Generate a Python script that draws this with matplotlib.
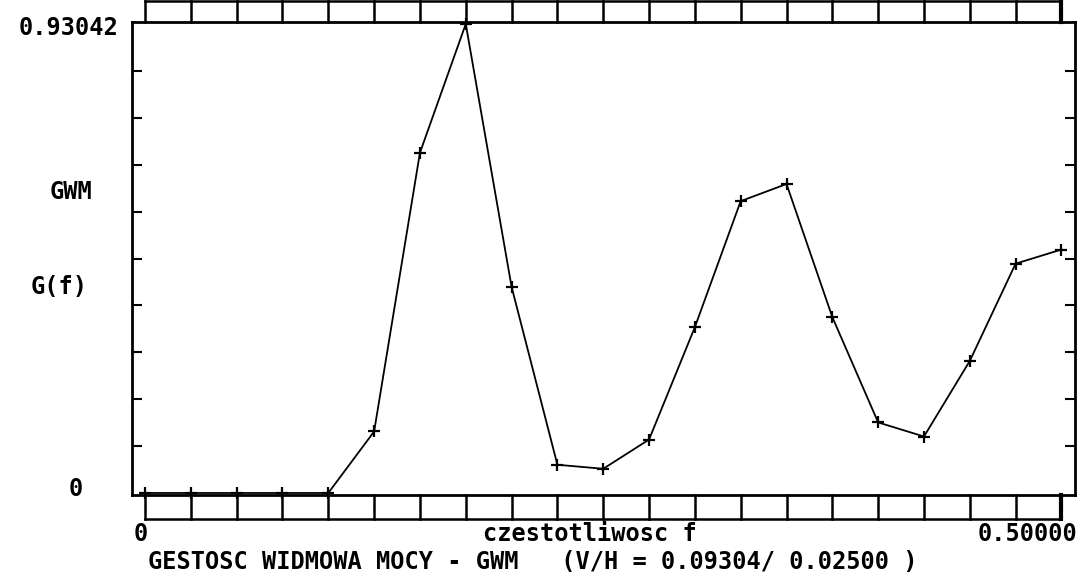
import matplotlib
matplotlib.use("Agg")
import matplotlib.pyplot as plt
import matplotlib.transforms as mtransforms

# Data
freq = [0.000, 0.025, 0.050, 0.075, 0.100, 0.125, 0.150, 0.175, 0.200, 0.225,
        0.250, 0.275, 0.300, 0.325, 0.350, 0.375, 0.400, 0.425, 0.450, 0.475, 0.500]
gwm = [0.0, 0.0, 0.0, 0.0, 0.0, 0.122, 0.675, 0.93042, 0.409, 0.056,
       0.048, 0.106, 0.329, 0.579, 0.613, 0.349, 0.140, 0.112, 0.262, 0.455, 0.483]
ymax = 0.93042
box_step = 0.025
y_tick_fracs = [0.1, 0.2, 0.3, 0.4, 0.5, 0.6, 0.7, 0.8, 0.9]

W, H = 1083, 579
fig = plt.figure(figsize=(W / 100, H / 100), dpi=100)
fig.patch.set_facecolor("white")

left, right, top, bottom = 132, 1075, 22, 495
ax = fig.add_axes([left / W, 1 - bottom / H, (right - left) / W, (bottom - top) / H])
ax.set_facecolor("white")

ax.set_xlim(-0.0071, 0.5074)
ax.set_ylim(-0.004, ymax + 0.004)

for s in ax.spines.values():
    s.set_linewidth(2.0)
    s.set_color("black")

ax.set_xticks([])
ax.set_yticks([f * ymax for f in y_tick_fracs])
ax.tick_params(axis="y", which="both", direction="in", length=7, width=1.5,
               left=True, right=True, labelleft=False, labelright=False)

# Spectrum line
ax.plot(freq, gwm, color="black", linewidth=1.3, marker="+", markersize=8,
        markeredgewidth=1.6, clip_on=False, zorder=3)

# Ruler boxes above and below the frame
trans = mtransforms.blended_transform_factory(ax.transData, ax.transAxes)
ah = bottom - top
top_hi = 1 + 21 / ah
bot_lo = -24 / ah
nbox = int(round(0.5 / box_step))
xs = [i * box_step for i in range(nbox + 1)]
for i, xv in enumerate(xs):
    lw = 3.0 if i == nbox else 1.8
    ax.plot([xv, xv], [1, top_hi], transform=trans, color="black", lw=lw, clip_on=False)
    ax.plot([xv, xv], [0, bot_lo], transform=trans, color="black", lw=lw, clip_on=False)
ax.plot([xs[0], xs[-1]], [top_hi, top_hi], transform=trans, color="black", lw=1.8, clip_on=False)
ax.plot([xs[0], xs[-1]], [bot_lo, bot_lo], transform=trans, color="black", lw=1.8, clip_on=False)

font = dict(family="DejaVu Sans Mono", fontweight="bold", fontsize=17, color="black")

def ftext(px, py, s, ha="left", va="center"):
    fig.text(px / W, 1 - py / H, s, ha=ha, va=va, **font)

ftext(118, 28, "0.93042", ha="right")
ftext(92, 192, "GWM", ha="right")
ftext(88, 287, "G(f)", ha="right")
ftext(83, 489, "0", ha="right")
ftext(134, 534, "0")
ftext(590, 534, "czestotliwosc f", ha="center")
ftext(1077, 534, "0.50000", ha="right")
ftext(148, 562, "GESTOSC WIDMOWA MOCY - GWM   (V/H = 0.09304/ 0.02500 )")

fig.savefig("out.png", dpi=100, facecolor="white")
